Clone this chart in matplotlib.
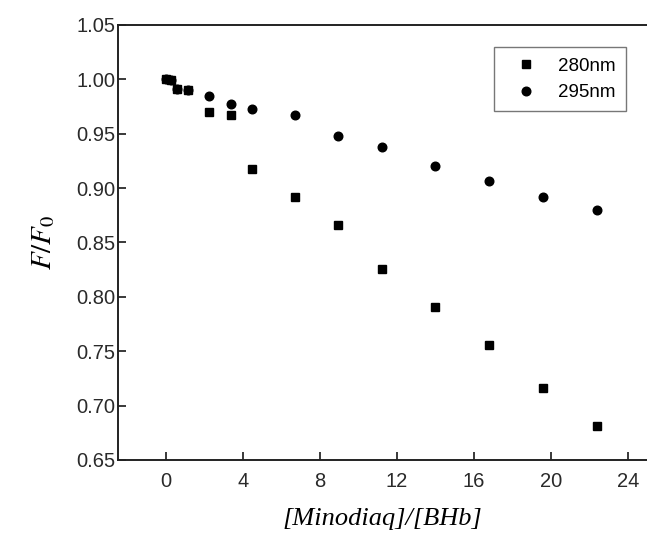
import matplotlib
matplotlib.use("Agg")
import matplotlib.pyplot as plt

plt.rcParams['mathtext.fontset'] = 'stix'

ratio = [0, 0.28, 0.56, 1.12, 2.24, 3.36, 4.48, 6.72, 8.96, 11.2, 14.0, 16.8, 19.6, 22.4]
f280 = [1.000, 0.999, 0.991, 0.990, 0.970, 0.967, 0.918, 0.892, 0.866, 0.826, 0.791, 0.756, 0.716, 0.681]
f295 = [1.000, 0.999, 0.991, 0.990, 0.985, 0.977, 0.973, 0.967, 0.948, 0.938, 0.920, 0.907, 0.892, 0.880]
xticks = [0, 4, 8, 12, 16, 20, 24]
yticks = [0.65, 0.70, 0.75, 0.80, 0.85, 0.90, 0.95, 1.00, 1.05]

fig = plt.figure(figsize=(6.47, 5.42), dpi=100)
ax = fig.add_axes([0.1824, 0.1513, 0.8176, 0.8026])

ax.plot(ratio, f280, linestyle='none', marker='s', markersize=5.5, color='black', label='280nm')
ax.plot(ratio, f295, linestyle='none', marker='o', markersize=6.2, color='black', label='295nm')

ax.set_xlim(-2.5, 25)
ax.set_ylim(0.65, 1.05)
ax.set_xticks(xticks)
ax.set_yticks(yticks)
ax.set_yticklabels([f"{v:.2f}" for v in yticks])

for s in ['left', 'bottom', 'top']:
    ax.spines[s].set_linewidth(1.4)
    ax.spines[s].set_color('#222222')
ax.spines['right'].set_visible(False)

ax.tick_params(direction='in', length=6, width=1.3, colors='#2a2a2a',
               labelsize=14.5, top=False, right=False)
for lab in ax.get_xticklabels() + ax.get_yticklabels():
    lab.set_family('Liberation Sans')
ax.tick_params(axis='x', pad=9)
ax.tick_params(axis='y', pad=2)

ax.set_xlabel('[Minodiaq]/[BHb]', family='Liberation Serif', style='italic', fontsize=19, labelpad=12)
ax.set_ylabel(r'$F/F_0$', fontsize=21, labelpad=14)

leg = ax.legend(loc='upper right', bbox_to_anchor=(0.961, 0.949), frameon=True, fancybox=False,
                edgecolor='#555555', prop={'family': 'Liberation Sans', 'size': 13.5},
                handletextpad=0.6, borderpad=0.55, labelspacing=0.5, handlelength=2.3,
                borderaxespad=0)
leg.get_frame().set_linewidth(1.0)

fig.savefig('out.png', dpi=100)
